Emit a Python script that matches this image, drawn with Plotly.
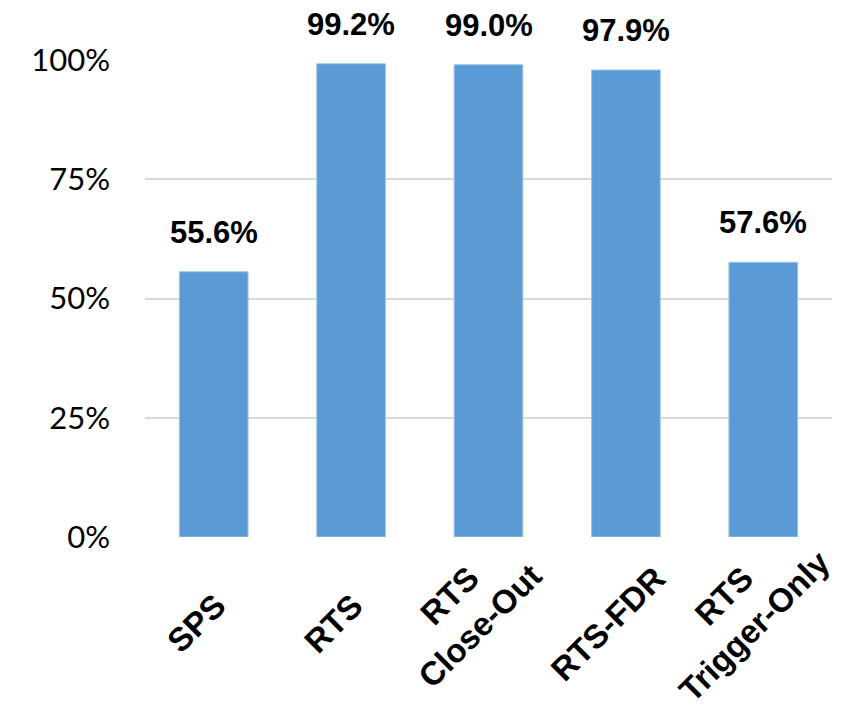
import plotly.graph_objects as go

categories = ['SPS', 'RTS', 'RTS<br>Close-Out', 'RTS-FDR', 'RTS<br>Trigger-Only']
values = [0.556, 0.992, 0.990, 0.979, 0.576]
value_labels = ['55.6%', '99.2%', '99.0%', '97.9%', '57.6%']
y_ticks = [0, 0.25, 0.5, 0.75, 1.0]
y_tick_labels = ['0%', '25%', '50%', '75%', '100%']

fig = go.Figure(go.Bar(x=categories, y=values, marker_color='#5B9BD5',
                       marker_line=dict(color='#9DC3E6', width=1)))

# value labels above bars
for cat, val, lab in zip(categories, values, value_labels):
    fig.add_annotation(x=cat, y=val, text='<b>' + lab + '</b>', showarrow=False,
                       yanchor='bottom', yshift=20,
                       font=dict(family='Liberation Sans, Arial', size=31, color='black'))

# rotated category labels, centred like excel does it
# (two-line labels nudged up/left a bit, plotly's line spacing is looser)
for cat in categories:
    nudge = 12 * cat.count('<br>')
    fig.add_annotation(x=cat, y=0, yref='paper', text='<b>' + cat + '</b>',
                       showarrow=False, textangle=-45, align='center',
                       xanchor='center', yanchor='middle',
                       xshift=-18 - nudge // 2, yshift=-86 + nudge,
                       font=dict(family='Liberation Sans, Arial', size=33, color='black'))

# fixed range so the annotations don't stretch the axis
fig.update_xaxes(range=[-0.5, len(categories) - 0.5], showticklabels=False,
                 showgrid=False, zeroline=False, ticks='', showline=False,
                 automargin=False)
fig.update_yaxes(range=[0, 1.0], tickvals=y_ticks, ticktext=y_tick_labels,
                 showgrid=True, gridcolor='#D9D9D9', gridwidth=2, zeroline=False,
                 ticklabelstandoff=34, automargin=False,
                 tickfont=dict(family='Lato, Open Sans', size=31, color='black'))

# page body adds an 8px offset, margins compensate for it
fig.update_layout(
    width=859, height=709,
    margin=dict(l=137, r=35, t=52, b=180),
    plot_bgcolor='white', paper_bgcolor='white',
    bargap=0.5, showlegend=False,
)

fig.write_html("out.html")
